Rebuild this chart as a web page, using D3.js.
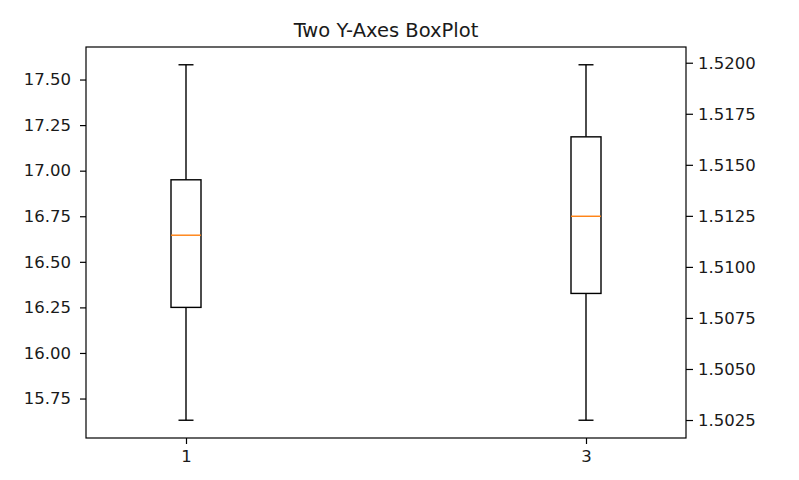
<!DOCTYPE html>
<html>
<head>
<meta charset="utf-8">
<script src="https://cdn.jsdelivr.net/npm/d3@7"></script>
<style>
  body { margin: 0; background: #fff; }
  text { font-family: "DejaVu Sans", sans-serif; fill: #1a1a1a; }
</style>
</head>
<body>
<script>
// box positions on the shared x axis
var positions = [1, 3];
// five-number summaries: [low whisker, q1, median, q3, high whisker]
var leftBox = [15.631, 16.25, 16.646, 16.95, 17.581];
var rightBox = [1.50249, 1.5087, 1.51248, 1.51637, 1.5199];
var leftTicks = [15.75, 16.00, 16.25, 16.50, 16.75, 17.00, 17.25, 17.50];
var rightTicks = [1.5025, 1.5050, 1.5075, 1.5100, 1.5125, 1.5150, 1.5175, 1.5200];
var title = 'Two Y-Axes BoxPlot';

var width = 799, height = 480;
var margin = {top: 47, right: 113, bottom: 42, left: 86};

var svg = d3.select('body').append('svg')
  .attr('width', width)
  .attr('height', height);

var x = d3.scaleLinear().domain([0.5, 3.5]).range([margin.left, width - margin.right]);

// matplotlib style 5% padding round the data
function padded(box) {
  var lo = box[0], hi = box[4], pad = (hi - lo) * 0.05;
  return [lo - pad, hi + pad];
}
var yLeft = d3.scaleLinear().domain(padded(leftBox)).range([height - margin.bottom, margin.top]);
var yRight = d3.scaleLinear().domain(padded(rightBox)).range([height - margin.bottom, margin.top]);

var boxWidth = 0.15; // in x units

function drawBox(pos, box, y) {
  var g = svg.append('g').attr('fill', 'none').attr('stroke', '#000').attr('stroke-width', 1.4);
  var cx = x(pos);
  var half = (x(pos + boxWidth / 2) - x(pos));
  var cap = half / 2;
  // whiskers
  g.append('line').attr('x1', cx).attr('x2', cx).attr('y1', y(box[0])).attr('y2', y(box[1]));
  g.append('line').attr('x1', cx).attr('x2', cx).attr('y1', y(box[3])).attr('y2', y(box[4]));
  // caps
  g.append('line').attr('x1', cx - cap).attr('x2', cx + cap).attr('y1', y(box[0])).attr('y2', y(box[0]));
  g.append('line').attr('x1', cx - cap).attr('x2', cx + cap).attr('y1', y(box[4])).attr('y2', y(box[4]));
  // box
  g.append('rect')
    .attr('x', cx - half).attr('width', half * 2)
    .attr('y', y(box[3])).attr('height', y(box[1]) - y(box[3]));
  // median
  g.append('line').attr('stroke', '#ff7f0e')
    .attr('x1', cx - half).attr('x2', cx + half).attr('y1', y(box[2])).attr('y2', y(box[2]));
}

drawBox(positions[0], leftBox, yLeft);
drawBox(positions[1], rightBox, yRight);

function styleAxis(g) {
  g.select('.domain').remove();
  g.selectAll('.tick line').attr('stroke', '#000').attr('stroke-width', 1.2);
  g.selectAll('.tick text').style('font-size', '16.5px').attr('fill', '#1a1a1a');
}

svg.append('g')
  .attr('transform', 'translate(' + margin.left + ',0)')
  .call(d3.axisLeft(yLeft).tickValues(leftTicks).tickFormat(d3.format('.2f')).tickSize(6).tickPadding(9))
  .call(styleAxis);

svg.append('g')
  .attr('transform', 'translate(' + (width - margin.right) + ',0)')
  .call(d3.axisRight(yRight).tickValues(rightTicks).tickFormat(d3.format('.4f')).tickSize(7).tickPadding(5))
  .call(styleAxis);

svg.append('g')
  .attr('transform', 'translate(0,' + (height - margin.bottom) + ')')
  .call(d3.axisBottom(x).tickValues(positions).tickFormat(d3.format('d')).tickSize(6).tickPadding(6))
  .call(styleAxis);

// frame
svg.append('rect')
  .attr('x', margin.left).attr('y', margin.top)
  .attr('width', width - margin.left - margin.right)
  .attr('height', height - margin.top - margin.bottom)
  .attr('fill', 'none').attr('stroke', '#000').attr('stroke-width', 1.2);

svg.append('text')
  .attr('x', (margin.left + width - margin.right) / 2)
  .attr('y', 37)
  .attr('text-anchor', 'middle')
  .style('font-size', '19.5px')
  .text(title);
</script>
</body>
</html>
